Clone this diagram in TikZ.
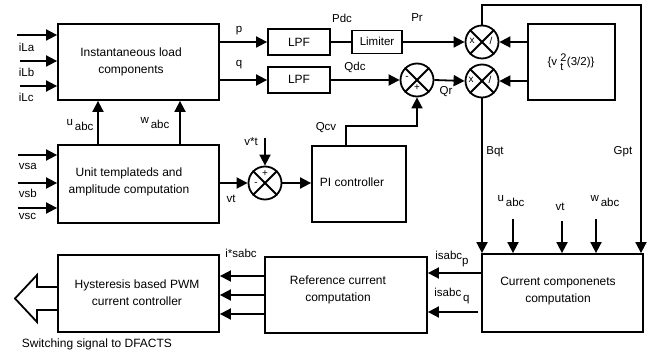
\documentclass[tikz,border=0pt]{standalone}
\usepackage{fontspec}
\setmainfont{Liberation Sans}
\usetikzlibrary{arrows.meta}
\begin{document}
\begin{tikzpicture}[x=1pt,y=-1pt, line width=1.8pt,
  box/.style={draw, line width=1.8pt, inner sep=0pt},
  btxt/.style={inner sep=0pt, align=center, font=\fontsize{12}{17}\selectfont},
  lbl/.style={inner sep=0pt, font=\fontsize{11.5}{14}\selectfont},
  sgn/.style={inner sep=0pt, font=\fontsize{10}{11}\selectfont},
  sumc/.style={draw, circle, minimum size=33pt, inner sep=0pt},
  arr/.style={-{Triangle[length=11pt,width=11pt]}}]
\useasboundingbox (0,0) rectangle (655,355);

% boxes
\node[box, minimum width=161pt, minimum height=76pt] (inst) at (138.5,62) {};
\node[btxt] (instT) at (131,62) {Instantaneous load\\components};
\node[box, minimum width=161pt, minimum height=78pt] (unit) at (138.5,184) {};
\node[btxt] (unitT) at (129,182) {Unit templateds and\\amplitude computation};
\node[box, minimum width=62pt, minimum height=26pt] (lpf1) at (299,42) {};
\node[btxt] (lpf1T) at (299,42) {LPF};
\node[box, minimum width=62pt, minimum height=26pt] (lpf2) at (299,80) {};
\node[btxt] (lpf2T) at (299,79) {LPF};
\node[box, minimum width=50pt, minimum height=23pt] (lim) at (377,42) {};
\node[lbl] (limT) at (377,41) {Limiter};
\node[box, minimum width=87pt, minimum height=76pt] (vbox) at (571.5,62) {};
\node[lbl] (vboxT) at (571,62) {\{v $^{\mbox{\fontsize{11}{12}\selectfont 2}}_{\mbox{\fontsize{11}{12}\selectfont t}}$(3/2)\}};
\node[box, minimum width=94pt, minimum height=76pt] (pi) at (359,184) {};
\node[btxt] (piT) at (352,182) {PI controller};
\node[box, minimum width=161pt, minimum height=78pt] (cur) at (562.5,293) {};
\node[btxt] (curT) at (558,291) {Current componenets\\computation};
\node[box, minimum width=162pt, minimum height=76pt] (ref) at (346,295) {};
\node[btxt] (refT) at (338,290) {Reference current\\computation};
\node[box, minimum width=161pt, minimum height=77pt] (hys) at (138.5,293.5) {};
\node[btxt] (hysT) at (137,293) {Hysteresis based PWM\\current controller};

% circles
\node[sumc] (sumv) at (265,183) {};
\node[sumc] (sumq) at (417,80) {};
\node[sumc] (m1) at (482,42) {};
\node[sumc] (m2) at (482,81) {};
\foreach \c in {sumv,sumq,m1,m2}{
  \draw (\c.north east) -- (\c.south west);
  \draw (\c.north west) -- (\c.south east);
}
\node[sgn] (sv1) at (265,174) {+};
\node[sgn] (sv2) at (256,184) {-};
\node[sgn] (sq1) at (407,78) {-};
\node[sgn] (sq2) at (417,88) {+};
\node[sgn] (m1a) at (472,41) {x};
\node[sgn] (m1b) at (491,41) {/};
\node[sgn] (m2a) at (471,80) {x};
\node[sgn] (m2b) at (490,80) {/};

% inputs left
\coordinate (iLa) at (17,35);
\coordinate (iLb) at (20,61);
\coordinate (iLc) at (20,86);
\draw[arr] (iLa) -- (iLa -| inst.west);
\draw[arr] (iLb) -- (iLb -| inst.west);
\draw[arr] (iLc) -- (iLc -| inst.west);
\node[lbl, anchor=west] (tiLa) at (18,47) {iLa};
\node[lbl, anchor=west] (tiLb) at (18,72) {iLb};
\node[lbl, anchor=west] (tiLc) at (18,97) {iLc};
\coordinate (vsa) at (18,155);
\coordinate (vsb) at (18,183);
\coordinate (vsc) at (18,208);
\draw[arr] (vsa) -- (vsa -| unit.west);
\draw[arr] (vsb) -- (vsb -| unit.west);
\draw[arr] (vsc) -- (vsc -| unit.west);
\node[lbl, anchor=west] (tvsa) at (18,166) {vsa};
\node[lbl, anchor=west] (tvsb) at (18,193) {vsb};
\node[lbl, anchor=west] (tvsc) at (18,216) {vsc};

% unit -> inst
\draw[arr] ([xshift=-40.5pt]unit.north) -- ([xshift=-40.5pt]inst.south);
\draw[arr] ([xshift=41.5pt]unit.north) -- ([xshift=41.5pt]inst.south);
\node[lbl] (tu1) at (80,125) {u\,\raisebox{-5pt}{abc}};
\node[lbl] (tw1) at (155,123) {w\,\raisebox{-5pt}{abc}};

% p, q
\draw[arr] (lpf1.west -| inst.east) -- (lpf1.west);
\draw[arr] (lpf2.west -| inst.east) -- (lpf2.west);
\node[lbl] (tp) at (239,31) {p};
\node[lbl] (tq) at (239,65) {q};
\draw (lpf1.east) -- (lim.west);
\draw[arr] (lim.east) -- (m1.west);
\draw[arr] (lpf2.east) -- (sumq.west);
\draw[arr] (sumq.east) -- (m2.west);
\node[lbl] (tPdc) at (342,18) {Pdc};
\node[lbl] (tPr) at (417,18) {Pr};
\node[lbl] (tQdc) at (355,67) {Qdc};
\node[lbl] (tQr) at (446,92) {Qr};
\draw[arr] (m1 -| vbox.west) -- (m1.east);
\draw[arr] (m2 -| vbox.west) -- (m2.east);

% PI -> sumq
\draw[arr] ([xshift=-13pt]pi.north) |- (417,126) -- (sumq.south);
\node[lbl] (tQcv) at (326,128) {Qcv};

% vt loop
\draw[arr] (sumv.west -| unit.east) -- (sumv.west);
\node[lbl] (tvt) at (231,199) {vt};
\coordinate (vstar) at (265,138);
\draw[arr] (vstar) -- (sumv.north);
\node[lbl] (tvstar) at (251,142) {v*t};
\draw[arr] (sumv.east) -- (sumv -| pi.west);

% Gpt, Bqt
\coordinate (gtop) at (641,5);
\draw[arr] (m1.north) |- (gtop) -- (gtop |- cur.north);
\draw[arr] (m2.south) -- (m2.south |- cur.north);
\node[lbl] (tBqt) at (495,152) {Bqt};
\node[lbl] (tGpt) at (623,152) {Gpt};

% inputs to cur
\coordinate (cu) at (513,219);
\coordinate (cv) at (562,221);
\coordinate (cw) at (596,219);
\draw[arr] (cu) -- (cu |- cur.north);
\draw[arr] (cv) -- (cv |- cur.north);
\draw[arr] (cw) -- (cw |- cur.north);
\node[lbl] (tu2) at (511,201) {u\,\raisebox{-5pt}{abc}};
\node[lbl] (tvt2) at (560,207) {vt};
\node[lbl] (tw2) at (605,201) {w\,\raisebox{-5pt}{abc}};

% cur -> ref
\coordinate (ip) at (482,273);
\coordinate (iq) at (478,312);
\draw[arr] (ip) -- (ip -| ref.east);
\draw[arr] (iq) -- (iq -| ref.east);
\node[lbl] (tip) at (452,259) {isabc\raisebox{-5pt}{p}};
\node[lbl] (tiq) at (452,296) {isabc\,\raisebox{-5pt}{q}};

% ref -> hys
\foreach \yy/\nm in {276/ra,295/rb,314/rc}{
  \coordinate (\nm) at (265,\yy);
  \draw[arr] (\nm) -- (\nm -| hys.east);
}
\node[lbl] (tis) at (241,253) {i*sabc};

% hollow output arrow
\draw (hys.west |- 0,287) -- (37,287) -- (37,275) -- (15,298.5) -- (37,322) -- (37,310) -- (hys.west |- 0,310);
\node[lbl, anchor=west, font=\fontsize{12}{14}\selectfont] (tsw) at (21,344) {Switching signal to DFACTS};
\end{tikzpicture}
\end{document}
